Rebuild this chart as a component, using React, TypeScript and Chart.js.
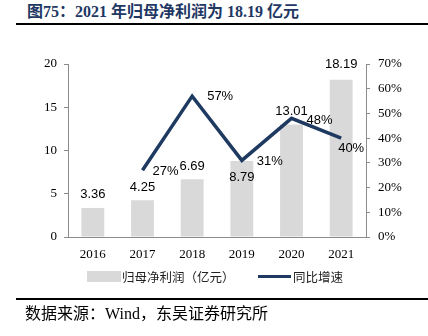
import React, { useEffect, useRef } from "react";
import { Chart, registerables } from "chart.js";

Chart.register(...registerables);

const years = ["2016", "2017", "2018", "2019", "2020", "2021"];
const netProfit = [3.36, 4.25, 6.69, 8.79, 13.01, 18.19];
const growth = [null, 27, 57, 31, 48, 40];
const leftTicks = [0, 5, 10, 15, 20];
const rightTicks = [0, 10, 20, 30, 40, 50, 60, 70];

const barName = "归母净利润（亿元）";
const lineName = "同比增速";
const titleText = "图75：2021 年归母净利润为 18.19 亿元";
const sourceText = "数据来源：Wind，东吴证券研究所";

// label offsets (pixels) relative to bar top / line point
const barLabelDy = [-14, -13, -13, 16, -13, -15];
const lineLabelDx = [0, 23, 28, 28, 28, 10];
const lineLabelDy = [0, 1, 0, 1, 2, 10];

const NAVY = "#1f3a60";
const GREY = "#d9d9d9";
const AXIS = "#8c8c8c";

const labelPlugin = {
  id: "valueLabels",
  afterDatasetsDraw(chart: any) {
    const ctx = chart.ctx;
    ctx.save();
    ctx.font = "13px 'Liberation Sans', Arial, sans-serif";
    ctx.fillStyle = "#000";
    ctx.textAlign = "center";
    ctx.textBaseline = "middle";
    const barMeta = chart.getDatasetMeta(0);
    barMeta.data.forEach((el: any, i: number) => {
      ctx.fillText(netProfit[i].toFixed(2), el.x, el.y + barLabelDy[i]);
    });
    const lineMeta = chart.getDatasetMeta(1);
    lineMeta.data.forEach((el: any, i: number) => {
      const v = growth[i];
      if (v == null) return;
      ctx.fillText(v + "%", el.x + lineLabelDx[i], el.y + lineLabelDy[i]);
    });
    ctx.restore();
  },
};

export default function App() {
  const ref = useRef<HTMLCanvasElement>(null);
  useEffect(() => {
    if (!ref.current) return;
    const serif = "'Liberation Serif', 'Times New Roman', serif";
    const chart = new Chart(ref.current, {
      type: "bar",
      data: {
        labels: years,
        datasets: [
          {
            type: "bar",
            label: barName,
            data: netProfit,
            backgroundColor: GREY,
            yAxisID: "y",
            categoryPercentage: 1,
            barPercentage: 0.46,
            order: 2,
          },
          {
            type: "line",
            label: lineName,
            data: growth as any,
            borderColor: NAVY,
            backgroundColor: NAVY,
            borderWidth: 3.5,
            pointRadius: 0,
            tension: 0,
            yAxisID: "y1",
            order: 1,
          },
        ],
      },
      options: {
        responsive: false,
        animation: false,
        layout: { padding: { top: 24, left: 0, right: 0, bottom: 0 } },
        plugins: { legend: { display: false }, tooltip: { enabled: false } },
        scales: {
          x: {
            offset: true,
            grid: { display: false, drawTicks: false },
            border: { display: true, color: AXIS, width: 1 },
            ticks: { color: "#000", font: { family: serif, size: 13 }, padding: 10 },
            afterFit: (s: any) => { s.height = 33; },
          },
          y: {
            position: "left",
            min: 0,
            max: 20,
            afterBuildTicks: (s: any) => { s.ticks = leftTicks.map((v) => ({ value: v })); },
            grid: { drawOnChartArea: false, drawTicks: true, tickLength: 4, color: AXIS },
            border: { display: true, color: AXIS, width: 1 },
            ticks: { color: "#000", font: { family: serif, size: 13 }, padding: 7 },
            afterFit: (s: any) => { s.width = 68; },
          },
          y1: {
            position: "right",
            min: 0,
            max: 70,
            afterBuildTicks: (s: any) => { s.ticks = rightTicks.map((v) => ({ value: v })); },
            grid: { drawOnChartArea: false, drawTicks: true, tickLength: 4, color: AXIS },
            border: { display: true, color: AXIS, width: 1 },
            ticks: {
              color: "#000",
              font: { family: serif, size: 13 },
              padding: 8,
              callback: (v: any) => v + "%",
            },
            afterFit: (s: any) => { s.width = 62; },
          },
        },
      },
      plugins: [labelPlugin],
    });
    return () => chart.destroy();
  }, []);

  return (
    <div style={{ position: "absolute", left: 0, top: 0, width: 428, height: 336, background: "#fff", overflow: "hidden" }}>
      <div
        style={{
          position: "absolute",
          left: 27,
          top: 2,
          font: "bold 16px 'Liberation Serif', 'Noto Sans CJK SC', serif",
          color: "#1f3864",
          whiteSpace: "nowrap",
          lineHeight: "20px",
        }}
      >
        {titleText}
      </div>
      <div style={{ position: "absolute", left: 16, top: 23, width: 412, height: 2, background: "#000" }} />
      <canvas ref={ref} width={428} height={230} style={{ position: "absolute", left: 0, top: 40, width: 428, height: 230 }} />
      <div style={{ position: "absolute", left: 87, top: 271, width: 34, height: 11, background: GREY }} />
      <div
        style={{
          position: "absolute",
          left: 122,
          top: 268,
          font: "12.5px 'Noto Sans CJK SC', serif",
          lineHeight: "17px",
          color: "#222",
          whiteSpace: "nowrap",
        }}
      >
        {barName}
      </div>
      <div style={{ position: "absolute", left: 258, top: 275, width: 33, height: 3, background: NAVY }} />
      <div
        style={{
          position: "absolute",
          left: 293,
          top: 268,
          font: "12.5px 'Noto Sans CJK SC', serif",
          lineHeight: "17px",
          color: "#222",
          whiteSpace: "nowrap",
        }}
      >
        {lineName}
      </div>
      <div style={{ position: "absolute", left: 16, top: 298, width: 412, height: 2, background: "#000" }} />
      <div
        style={{
          position: "absolute",
          left: 25,
          top: 304,
          font: "16px 'Liberation Serif', 'Noto Sans CJK SC', serif",
          lineHeight: "19px",
          color: "#000",
          whiteSpace: "nowrap",
        }}
      >
        {sourceText}
      </div>
    </div>
  );
}
